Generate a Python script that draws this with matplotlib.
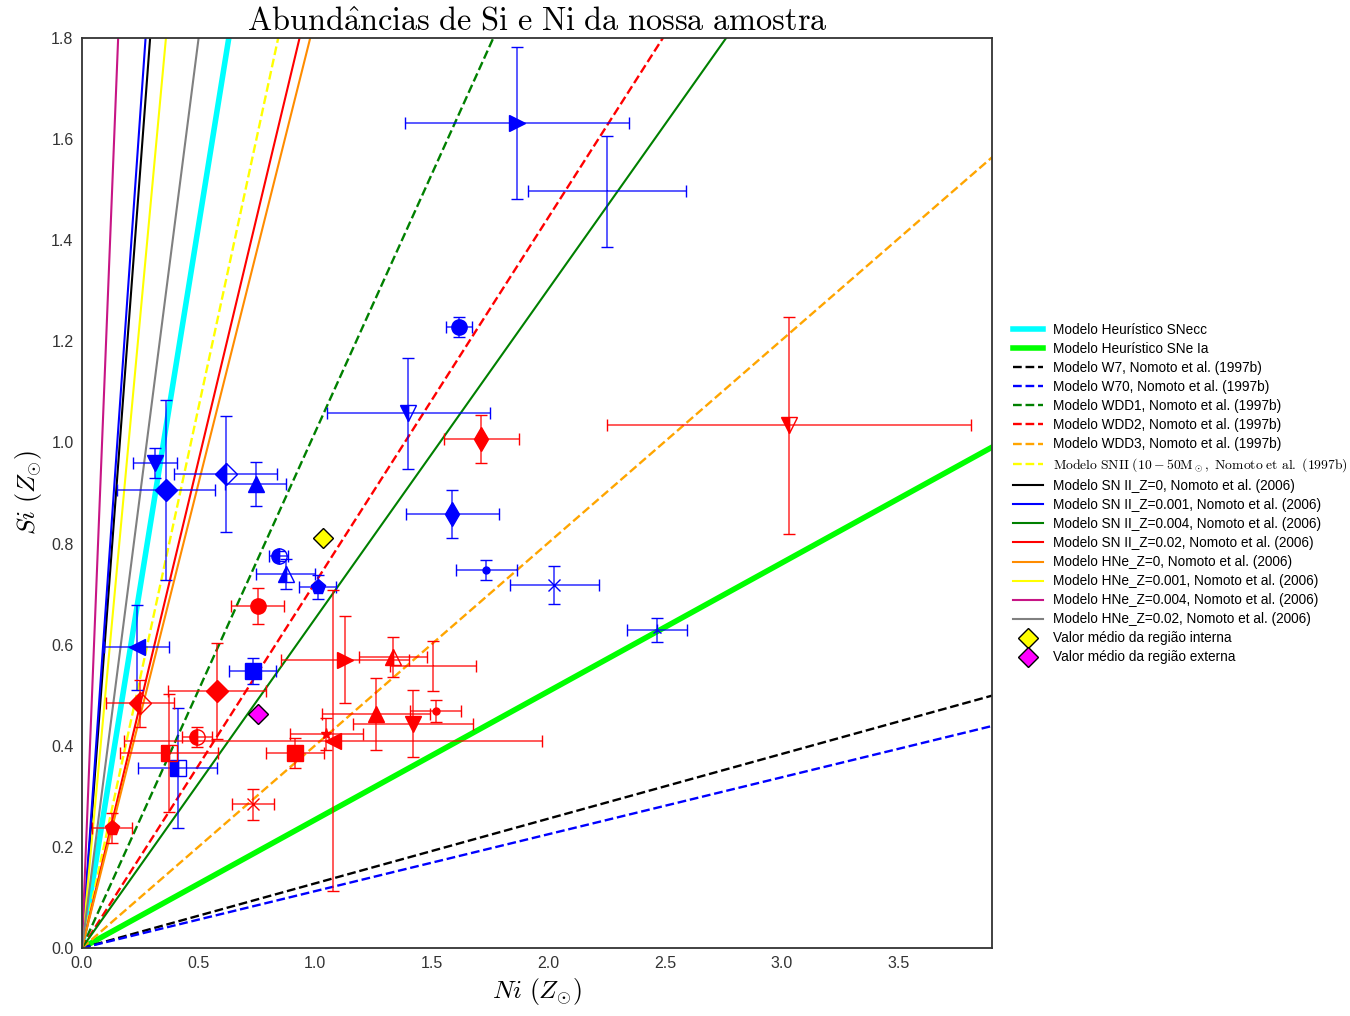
import numpy as np
import matplotlib.pyplot as plt

plt.rcParams['mathtext.fontset'] = 'cm'
plt.rcParams['font.family'] = ['Liberation Sans', 'DejaVu Sans']

# model ratios Si/Ni (slopes of lines through origin)
model_names = [
    'Modelo Heurístico SNecc', 'Modelo Heurístico SNe Ia',
    'Modelo W7, Nomoto et al. (1997b)', 'Modelo W70, Nomoto et al. (1997b)',
    'Modelo WDD1, Nomoto et al. (1997b)', 'Modelo WDD2, Nomoto et al. (1997b)',
    'Modelo WDD3, Nomoto et al. (1997b)',
    r'$\mathrm{Modelo\ SNII\ (10-50M_\odot,\ Nomoto\ et\ al.\ (1997b)}$',
    'Modelo SN II_Z=0, Nomoto et al. (2006)', 'Modelo SN II_Z=0.001, Nomoto et al. (2006)',
    'Modelo SN II_Z=0.004, Nomoto et al. (2006)', 'Modelo SN II_Z=0.02, Nomoto et al. (2006)',
    'Modelo HNe_Z=0, Nomoto et al. (2006)', 'Modelo HNe_Z=0.001, Nomoto et al. (2006)',
    'Modelo HNe_Z=0.004, Nomoto et al. (2006)', 'Modelo HNe_Z=0.02, Nomoto et al. (2006)',
]
model_slopes = [2.86, 0.254, 0.128, 0.1126, 1.021, 0.723, 0.401, 2.14,
                6.16, 6.6, 0.652, 1.93, 1.84, 5.0, 11.6, 3.6]
model_colors = ['cyan', 'lime', 'black', 'blue', 'green', 'red', 'orange', 'yellow',
                'black', 'blue', 'green', 'red', 'darkorange', 'yellow',
                'mediumvioletred', 'gray']
model_styles = ['-', '-', '--', '--', '--', '--', '--', '--',
                '-', '-', '-', '-', '-', '-', '-', '-']
model_widths = [4, 4, 1.7, 1.7, 1.7, 1.7, 1.7, 1.7,
                1.5, 1.5, 1.5, 1.5, 1.5, 1.5, 1.5, 1.5]

# região interna (azul)
blue_ni = [1.866, 2.25, 1.617, 1.399, 1.587, 1.733, 2.024, 2.465, 0.312, 0.359,
           0.616, 0.745, 0.843, 0.873, 1.01, 0.235, 0.732, 0.41]
blue_si = [1.632, 1.497, 1.228, 1.058, 0.858, 0.748, 0.718, 0.629, 0.959, 0.906,
           0.937, 0.918, 0.775, 0.740, 0.714, 0.595, 0.548, 0.356]
blue_ni_err = [0.48, 0.34, 0.056, 0.35, 0.2, 0.13, 0.19, 0.13, 0.095, 0.21,
               0.22, 0.13, 0.04, 0.126, 0.08, 0.14, 0.1, 0.17]
blue_si_err = [0.15, 0.11, 0.02, 0.11, 0.047, 0.02, 0.037, 0.024, 0.03, 0.178,
               0.115, 0.043, 0.01, 0.03, 0.023, 0.084, 0.025, 0.118]
blue_markers = ['>', ',', 'o', 'v', 'd', '.', 'x', '2', 'v', 'D',
                'D', '^', 'o', '^', 'p', '<', 's', 's']
blue_fill = ['full', 'full', 'full', 'left', 'full', 'full', 'full', 'full', 'full', 'full',
             'left', 'full', 'left', 'left', 'full', 'full', 'full', 'left']

# região externa (vermelho)
red_ni = [3.03, 1.712, 0.753, 1.127, 1.332, 1.506, 1.261, 1.516, 1.419, 1.048,
          1.077, 0.913, 0.733, 0.58, 0.248, 0.493, 0.374, 0.13]
red_si = [1.034, 1.007, 0.676, 0.570, 0.576, 0.558, 0.463, 0.469, 0.444, 0.423,
          0.41, 0.386, 0.284, 0.508, 0.484, 0.418, 0.386, 0.237]
red_ni_err = [0.78, 0.16, 0.115, 0.275, 0.146, 0.184, 0.232, 0.109, 0.258, 0.155,
              0.896, 0.124, 0.088, 0.21, 0.145, 0.063, 0.21, 0.085]
red_si_err = [0.215, 0.048, 0.036, 0.086, 0.04, 0.05, 0.072, 0.022, 0.067, 0.032,
              0.298, 0.03, 0.03, 0.095, 0.046, 0.02, 0.116, 0.03]
red_markers = ['v', 'd', 'o', '>', '^', ',', '^', '.', 'v', '*',
               '<', 's', 'x', 'D', 'D', 'o', 's', 'p']
red_fill = ['left', 'full', 'full', 'full', 'left', 'full', 'full', 'full', 'full', 'full',
            'full', 'full', 'full', 'full', 'left', 'left', 'left', 'full']

# valores médios
mean_ni = [1.031, 0.753]
mean_si = [0.811, 0.463]
mean_colors = ['yellow', 'magenta']
mean_names = ['Valor médio da região interna', 'Valor médio da região externa']

fig = plt.figure(figsize=(13.5, 10.16), dpi=100)
ax = fig.add_axes([0.0607, 0.0669, 0.6741, 0.8957])

xx = np.array([0, 4.0])
handles = []
for name, s, c, ls, lw in zip(model_names, model_slopes, model_colors, model_styles, model_widths):
    h, = ax.plot(xx, s * xx, color=c, ls=ls, lw=lw, label=name)
    handles.append(h)

for group in [(blue_ni, blue_si, blue_ni_err, blue_si_err, blue_markers, blue_fill, 'blue'),
              (red_ni, red_si, red_ni_err, red_si_err, red_markers, red_fill, 'red')]:
    gx, gy, gxe, gye, gm, gf, c = group
    for i in range(len(gx)):
        ms = 11 if gm[i] in ('>', '<', '^', 'v', 'o', 's', 'D', 'p') else 8
        if gm[i] == 'd':
            ms = 12
        if gm[i] == '.':
            ms = 10
        ax.errorbar(gx[i], gy[i], xerr=gxe[i], yerr=gye[i], fmt=gm[i], color=c,
                    ecolor=c, elinewidth=1.3, capsize=4, capthick=1.3,
                    ms=ms, mec=c, mew=1, fillstyle=gf[i], markerfacecoloralt='none',
                    zorder=3)

for xm, ym, c, name in zip(mean_ni, mean_si, mean_colors, mean_names):
    h, = ax.plot(xm, ym, 'D', color=c, mec='black', ms=10, mew=1, label=name, zorder=4, ls='none')
    handles.append(h)

# error bars a bit transparent
for coll in ax.collections:
    coll.set_alpha(0.7)

ax.set_xlim(0, 3.9)
ax.set_ylim(0, 1.8)
ax.set_xticks(np.arange(0, 3.6, 0.5))
ax.set_yticks(np.arange(0, 1.81, 0.2))
ax.tick_params(length=0, labelsize=11.5, colors='#333333', pad=6)
for sp in ax.spines.values():
    sp.set_color('#333333')
    sp.set_linewidth(1.3)

ax.set_xlabel(r'$Ni\ (Z_{\odot})$', fontsize=18.5, labelpad=3)
ax.set_ylabel(r'$Si\ (Z_{\odot})$', fontsize=18.5, labelpad=5)
ax.set_title(r'$\mathrm{Abund\hat{a}ncias\ de\ Si\ e\ Ni\ da\ nossa\ amostra}$', fontsize=23.3, pad=4)

fig.legend(handles=handles, loc='center left', bbox_to_anchor=(0.741, 0.514),
           frameon=False, fontsize=9.8, handlelength=2.2, labelspacing=0.37, numpoints=1)

fig.savefig('out.png', dpi=100)
